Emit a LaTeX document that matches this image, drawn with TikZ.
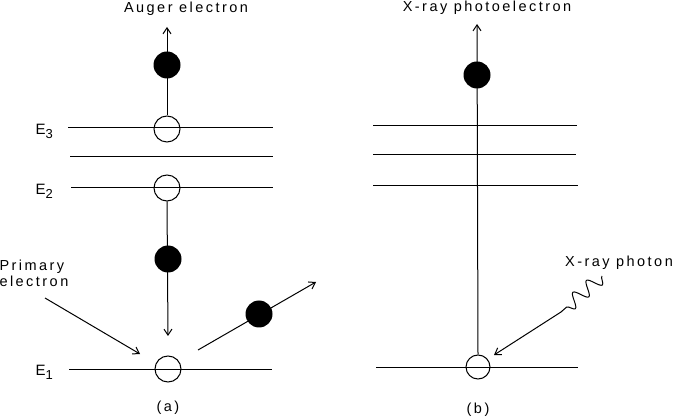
\documentclass[tikz,border=0pt]{standalone}
\usepackage{fontspec}
\setmainfont{Liberation Sans}[LetterSpace=17]
\usetikzlibrary{arrows.meta,decorations.pathmorphing}
\begin{document}
\begin{tikzpicture}[x=1pt,y=-1pt,line width=1pt,
  hole/.style={circle,draw,minimum size=26pt,inner sep=0pt},
  elec/.style={circle,fill=black,minimum size=27pt,inner sep=0pt},
  arr/.style={-{Straight Barb[length=6pt,width=8pt]}},
  lbl/.style={font=\fontsize{14.5}{17}\selectfont,inner sep=0pt},
  sub/.style={font=\fontsize{15}{17}\selectfont,inner sep=0pt,anchor=west}]
\useasboundingbox (0,0) rectangle (677,419);
% ---------- (a) Auger ----------
\draw (68,128) -- (273,128);
\draw (70,157) -- (273,157);
\draw (71,188) -- (273,188);
\draw (69,369) -- (272,369);
\node[hole] (a3) at (167,129) {};
\node[hole] (a2) at (167,188) {};
\node[hole] (a1) at (168,369) {};
\coordinate (atip) at (167,27);
\coordinate (adown) at (168,336);
\coordinate (pstart) at (45,298);
\coordinate (ptip) at (140,354);
\coordinate (ostart) at (198,350);
\coordinate (otip) at (316,282);
\draw[arr] (a3.north) -- (atip);
\draw[arr] (a2.south) -- (adown);
\draw[arr] (pstart) -- (ptip);
\draw[arr] (ostart) -- (otip);
\node[elec] (ae1) at (167,65) {};
\node[elec] (ae2) at (168,259) {};
\node[elec] (ae3) at (259,314) {};
\node[lbl] (tauger) at (186,9) {Auger electron};
\node[lbl,align=left,anchor=west] (tprim) at (-1,273) {Primary\\[-1pt]electron};
\node[sub] (e3) at (35,131) {E\raisebox{-0.5ex}{\fontsize{13}{15}\selectfont 3}};
\node[sub] (e2) at (35,191) {E\raisebox{-0.5ex}{\fontsize{13}{15}\selectfont 2}};
\node[sub] (e1) at (35,372) {E\raisebox{-0.5ex}{\fontsize{13}{15}\selectfont 1}};
\node[lbl] (ta) at (168,408) {(a)};
% ---------- (b) XPS ----------
\draw (373,126) -- (577,126);
\draw (373,155) -- (576,155);
\draw (373,186) -- (578,186);
\draw (376,367) -- (578,367);
\node[hole,minimum size=24pt] (b1) at (478,367) {};
\coordinate (btip) at (477,24);
\draw[arr] (b1.north) -- (btip);
\node[elec] (be) at (477,75) {};
\coordinate (ws) at (602,276);
\coordinate (we) at (561,312);
\coordinate (wtip) at (494,355);
\draw[decorate,decoration={snake,amplitude=7pt,segment length=18pt,pre length=0pt,post length=0pt}] (ws) -- (we);
\draw[arr] (we) -- (wtip);
\node[lbl] (tphoto) at (487,8) {X-ray photoelectron};
\node[lbl] (tphoton) at (619,263) {X-ray photon};
\node[lbl] (tb) at (478,410) {(b)};
\end{tikzpicture}
\end{document}
